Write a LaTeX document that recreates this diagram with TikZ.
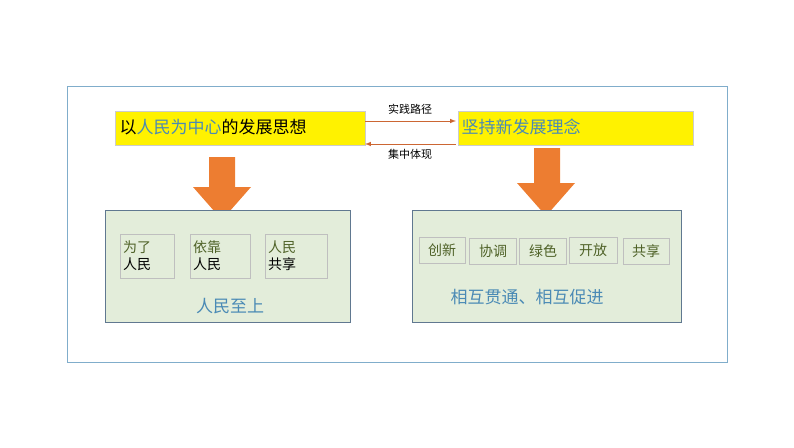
\documentclass[tikz,border=0pt]{standalone}
\usepackage{fontspec}
\setmainfont{Noto Sans CJK SC}
\begin{document}
\begin{tikzpicture}[x=1pt,y=-1pt,
  ybox/.style={fill=yellow,draw=black!20,line width=0.6pt},
  gbox/.style={fill=gfill,draw=gline,line width=0.8pt},
  sbox/.style={draw=black!25,line width=0.6pt,font=\fontsize{14}{17}\selectfont,inner sep=3pt},
  conn/.style={draw=brown!80!red,line width=1pt,-latex},
  blk/.style={fill=orng,draw=none}]
\definecolor{tb}{HTML}{4A8AB5}
\definecolor{gt}{HTML}{4F6228}
\definecolor{gfill}{HTML}{E3EDDA}
\definecolor{gline}{HTML}{607890}
\definecolor{orng}{HTML}{ED7D31}
\useasboundingbox (0,0) rectangle (794,447);
\draw[draw=tb!70,line width=0.8pt] (67,86) rectangle (727,362);
\node[ybox,minimum width=250pt,minimum height=34pt,anchor=north west] (L) at (115,111) {};
\node[anchor=west,font=\fontsize{17}{19}\selectfont] (Lt) at (116,127) {以\textcolor{tb}{人民为中心}的发展思想};
\node[ybox,minimum width=235pt,minimum height=34pt,anchor=north west] (R) at (458,111) {};
\node[anchor=west,font=\fontsize{17}{19}\selectfont,text=tb] (Rt) at (458,127) {坚持新发展理念};
\coordinate (a1) at (365,121); \coordinate (a2) at (456,121);
\coordinate (b1) at (456,144); \coordinate (b2) at (365,144);
\draw[conn] (a1) -- (a2);
\draw[conn] (b1) -- (b2);
\node[font=\fontsize{11}{13}\selectfont] (p) at (410,109) {实践路径};
\node[font=\fontsize{11}{13}\selectfont] (q) at (410,154) {集中体现};
\fill[blk] (209,157) -- (235,157) -- (235,187) -- (251,187) -- (222,220) -- (193,187) -- (209,187) -- cycle;
\fill[blk] (534,148) -- (560,148) -- (560,183) -- (575,183) -- (546,216) -- (517,183) -- (534,183) -- cycle;
\node[gbox,minimum width=245pt,minimum height=112pt,anchor=north west] (G1) at (105,210) {};
\node[gbox,minimum width=269pt,minimum height=112pt,anchor=north west] (G2) at (412,210) {};
\node[sbox,minimum width=54pt,minimum height=44pt,text width=48pt,align=left] (s1) at (147,256) {\textcolor{gt}{为了}\\人民};
\node[sbox,minimum width=60pt,minimum height=44pt,text width=54pt,align=left] (s2) at (220,256) {\textcolor{gt}{依靠}\\人民};
\node[sbox,minimum width=62pt,minimum height=44pt,text width=56pt,align=left] (s3) at (296,256) {\textcolor{gt}{人民}\\共享};
\node[text=tb,font=\fontsize{17}{19}\selectfont] (t1) at (230,306) {人民至上};
\foreach \n/\x/\y/\w/\t in {c1/442/250/46/创新,c2/493/251/47/协调,c3/543/251/47/绿色,c4/593/250/48/开放,c5/646/251/46/共享}
  \node[sbox,minimum width=\w pt,minimum height=26pt,text=gt] (\n) at (\x,\y) {\t};
\node[text=tb,font=\fontsize{17}{19}\selectfont] (t2) at (527,297) {相互贯通、相互促进};
\end{tikzpicture}
\end{document}
